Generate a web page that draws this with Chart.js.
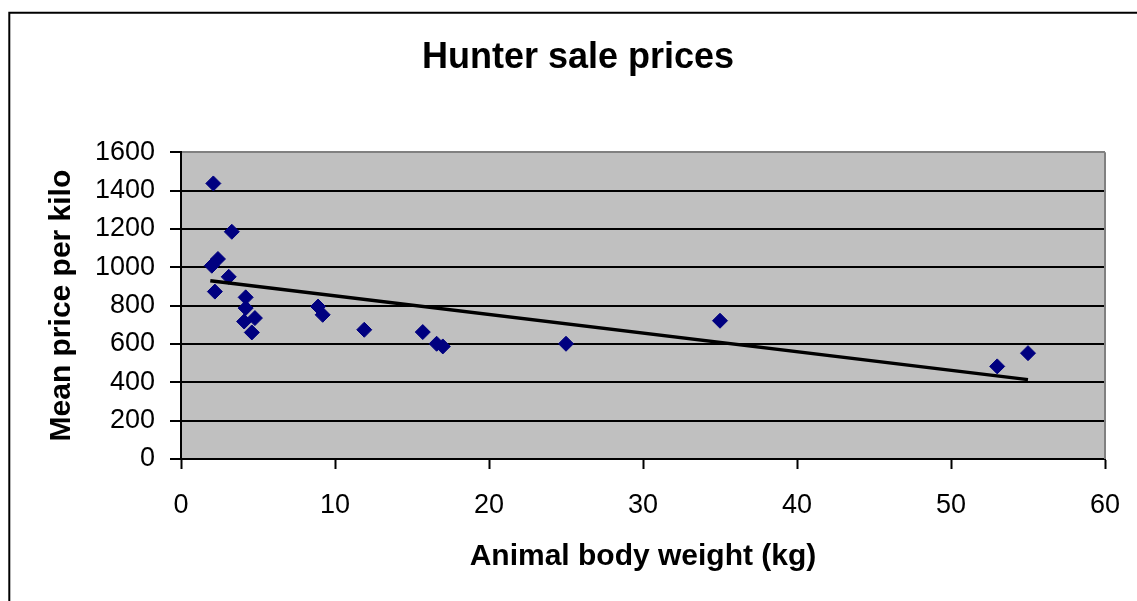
<!DOCTYPE html>
<html>
<head>
<meta charset="utf-8">
<title>Hunter sale prices</title>
<script src="https://cdn.jsdelivr.net/npm/chart.js@4/dist/chart.umd.min.js"></script>
<style>
  html, body { margin: 0; padding: 0; background: #fff; }
  #wrap { width: 1137px; height: 601px; position: relative; }
</style>
</head>
<body>
<div id="wrap"><canvas id="chart" width="1137" height="601"></canvas></div>
<script>
// data
const weights = [2.1, 3.3, 2.0, 2.4, 3.1, 2.2, 4.2, 4.2, 4.1, 4.8, 4.6, 8.9, 9.2, 11.9, 15.7, 16.6, 17.0, 25.0, 35.0, 53.0, 55.0];
const prices = [1437, 1185, 1008, 1043, 950, 873, 843, 787, 717, 735, 660, 795, 752, 674, 662, 601, 587, 601, 721, 483, 552];
// trend line ends
const trendX = [1.9, 55.0];
const trendY = [930, 414];

const xTicks = { min: 0, max: 60, step: 10 };
const yTicks = { min: 0, max: 1600, step: 200 };

const FONT = "'Liberation Sans', Arial, sans-serif";

// grey plot area, grey right edge and the outer frame
const plotDecor = {
  id: 'plotDecor',
  beforeDraw(chart) {
    const { ctx, chartArea: a } = chart;
    ctx.save();
    ctx.fillStyle = '#c0c0c0';
    ctx.fillRect(a.left, a.top, a.right - a.left, a.bottom - a.top);
    ctx.restore();
  },
  afterDraw(chart) {
    const { ctx, chartArea: a } = chart;
    ctx.save();
    ctx.strokeStyle = '#808080';
    ctx.lineWidth = 2;
    ctx.beginPath();
    ctx.moveTo(a.right, a.top);
    ctx.lineTo(a.right, a.bottom);
    ctx.stroke();
    // frame round the whole chart (only top and left show)
    ctx.strokeStyle = '#000';
    ctx.lineWidth = 2;
    ctx.beginPath();
    ctx.moveTo(9.3, 601);
    ctx.lineTo(9.3, 12.7);
    ctx.lineTo(1137, 12.7);
    ctx.stroke();
    ctx.restore();
  }
};

new Chart(document.getElementById('chart'), {
  type: 'scatter',
  data: {
    datasets: [
      {
        type: 'line',
        label: 'Trend',
        data: trendX.map((x, i) => ({ x, y: trendY[i] })),
        borderColor: '#000',
        borderWidth: 3.5,
        pointRadius: 0,
        fill: false,
        order: 0
      },
      {
        label: 'Mean price per kilo',
        data: weights.map((x, i) => ({ x, y: prices[i] })),
        pointStyle: 'rectRot',
        pointRadius: 7.5,
        pointBackgroundColor: '#000080',
        pointBorderColor: '#000080',
        pointBorderWidth: 1,
        order: 1
      }
    ]
  },
  options: {
    responsive: false,
    animation: false,
    // left/right padding keeps the title centred on the whole frame
    layout: { padding: { left: 51, right: 32, top: 0, bottom: 0 } },
    plugins: {
      legend: { display: false },
      tooltip: { enabled: false },
      title: {
        display: true,
        text: 'Hunter sale prices',
        color: '#000',
        font: { family: FONT, size: 36, weight: 'bold' },
        padding: { top: 36, bottom: 73 }
      }
    },
    scales: {
      x: {
        type: 'linear',
        min: xTicks.min,
        max: xTicks.max,
        afterFit(s) {
          s.height = 142;
          // the end labels fit inside the layout padding already
          s.paddingLeft = 0;
          s.paddingRight = 0;
        },
        ticks: {
          stepSize: xTicks.step,
          color: '#000',
          padding: 20,
          font: { family: FONT, size: 27 }
        },
        grid: {
          drawOnChartArea: false,
          drawTicks: true,
          tickLength: 10,
          tickColor: '#000',
          tickWidth: 2
        },
        border: { color: '#000', width: 2 },
        title: {
          display: true,
          text: 'Animal body weight (kg)',
          color: '#000',
          font: { family: FONT, size: 30, weight: 'bold' },
          padding: { top: 0, bottom: 26 }
        }
      },
      y: {
        min: yTicks.min,
        max: yTicks.max,
        afterFit(s) { s.width = 130; },
        ticks: {
          stepSize: yTicks.step,
          color: '#000',
          padding: 15,
          font: { family: FONT, size: 27 },
          callback: (v) => String(v)
        },
        grid: {
          color: (c) => (c.tick && c.tick.value === yTicks.max ? '#808080' : '#000'),
          lineWidth: 2,
          tickLength: 11,
          tickColor: '#000',
          tickWidth: 2
        },
        border: { color: '#000', width: 2 },
        title: {
          display: true,
          text: 'Mean price per kilo',
          color: '#000',
          font: { family: FONT, size: 30, weight: 'bold' },
          padding: { top: -7, bottom: 0 }
        }
      }
    }
  },
  plugins: [plotDecor]
});
</script>
</body>
</html>
